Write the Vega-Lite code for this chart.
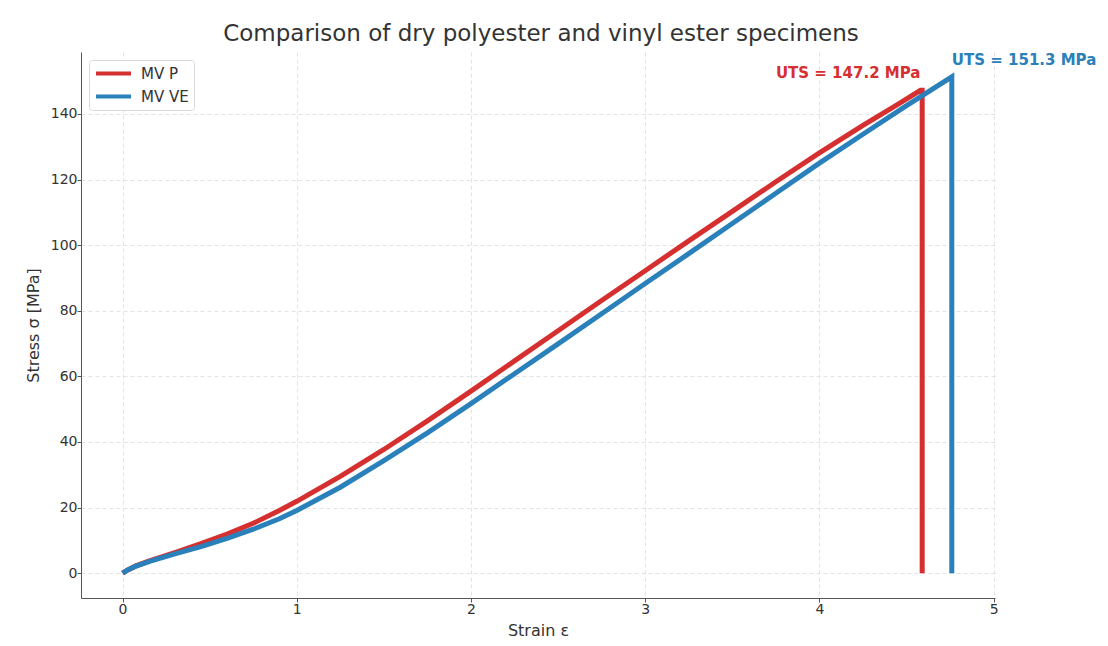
{
  "$schema": "https://vega.github.io/schema/vega-lite/v6.json",
  "width": 914,
  "height": 546,
  "autosize": {"type": "none"},
  "padding": {"left": 81, "top": 52, "right": 113, "bottom": 48},
  "background": "white",
  "title": {
    "text": "Comparison of dry polyester and vinyl ester specimens",
    "font": "DejaVu Sans",
    "fontSize": 23,
    "fontWeight": "normal",
    "color": "#333333",
    "anchor": "middle",
    "offset": 6,
    "dx": 3
  },
  "config": {
    "view": {"stroke": null},
    "axis": {
      "labelFont": "DejaVu Sans",
      "labelFontSize": 14,
      "labelColor": "#333333",
      "titleFont": "DejaVu Sans",
      "titleFontSize": 16,
      "titleFontWeight": "normal",
      "titleColor": "#333333",
      "domainColor": "#555555",
      "tickColor": "#555555",
      "tickSize": 4,
      "labelPadding": 0,
      "gridColor": "#e3e3e3",
      "gridDash": [4, 3],
      "gridWidth": 1
    },
    "legend": {
      "labelFont": "DejaVu Sans"
    }
  },
  "datasets": {
    "curves": [
      {"series": "MV P", "ord": 0, "strain": 0, "stress": 0},
      {"series": "MV P", "ord": 1, "strain": 0.03, "stress": 1.0},
      {"series": "MV P", "ord": 2, "strain": 0.08, "stress": 2.3},
      {"series": "MV P", "ord": 3, "strain": 0.15, "stress": 3.7},
      {"series": "MV P", "ord": 4, "strain": 0.3, "stress": 6.3},
      {"series": "MV P", "ord": 5, "strain": 0.45, "stress": 9.0},
      {"series": "MV P", "ord": 6, "strain": 0.6, "stress": 11.9},
      {"series": "MV P", "ord": 7, "strain": 0.75, "stress": 15.2},
      {"series": "MV P", "ord": 8, "strain": 0.9, "stress": 19.1},
      {"series": "MV P", "ord": 9, "strain": 1.0, "stress": 21.9},
      {"series": "MV P", "ord": 10, "strain": 1.25, "stress": 29.5},
      {"series": "MV P", "ord": 11, "strain": 1.5, "stress": 37.7},
      {"series": "MV P", "ord": 12, "strain": 1.75, "stress": 46.4},
      {"series": "MV P", "ord": 13, "strain": 2.0, "stress": 55.5},
      {"series": "MV P", "ord": 14, "strain": 2.25, "stress": 64.7},
      {"series": "MV P", "ord": 15, "strain": 2.5, "stress": 73.9},
      {"series": "MV P", "ord": 16, "strain": 2.75, "stress": 83.1},
      {"series": "MV P", "ord": 17, "strain": 3.0, "stress": 92.2},
      {"series": "MV P", "ord": 18, "strain": 3.25, "stress": 101.3},
      {"series": "MV P", "ord": 19, "strain": 3.5, "stress": 110.3},
      {"series": "MV P", "ord": 20, "strain": 3.75, "stress": 119.3},
      {"series": "MV P", "ord": 21, "strain": 4.0, "stress": 128.1},
      {"series": "MV P", "ord": 22, "strain": 4.25, "stress": 136.5},
      {"series": "MV P", "ord": 23, "strain": 4.45, "stress": 142.9},
      {"series": "MV P", "ord": 24, "strain": 4.58, "stress": 147.2},
      {"series": "MV P", "ord": 25, "strain": 4.59, "stress": 147.2},
      {"series": "MV P", "ord": 26, "strain": 4.59, "stress": 0},
      {"series": "MV VE", "ord": 0, "strain": 0, "stress": 0},
      {"series": "MV VE", "ord": 1, "strain": 0.03, "stress": 1.0},
      {"series": "MV VE", "ord": 2, "strain": 0.07, "stress": 2.0},
      {"series": "MV VE", "ord": 3, "strain": 0.16, "stress": 3.7},
      {"series": "MV VE", "ord": 4, "strain": 0.3, "stress": 5.9},
      {"series": "MV VE", "ord": 5, "strain": 0.45, "stress": 8.1},
      {"series": "MV VE", "ord": 6, "strain": 0.6, "stress": 10.6},
      {"series": "MV VE", "ord": 7, "strain": 0.75, "stress": 13.4},
      {"series": "MV VE", "ord": 8, "strain": 0.9, "stress": 16.6},
      {"series": "MV VE", "ord": 9, "strain": 1.0, "stress": 19.1},
      {"series": "MV VE", "ord": 10, "strain": 1.25, "stress": 26.2},
      {"series": "MV VE", "ord": 11, "strain": 1.5, "stress": 34.3},
      {"series": "MV VE", "ord": 12, "strain": 1.75, "stress": 42.8},
      {"series": "MV VE", "ord": 13, "strain": 2.0, "stress": 51.7},
      {"series": "MV VE", "ord": 14, "strain": 2.25, "stress": 60.8},
      {"series": "MV VE", "ord": 15, "strain": 2.5, "stress": 69.9},
      {"series": "MV VE", "ord": 16, "strain": 2.75, "stress": 79.1},
      {"series": "MV VE", "ord": 17, "strain": 3.0, "stress": 88.3},
      {"series": "MV VE", "ord": 18, "strain": 3.25, "stress": 97.4},
      {"series": "MV VE", "ord": 19, "strain": 3.5, "stress": 106.6},
      {"series": "MV VE", "ord": 20, "strain": 3.75, "stress": 115.8},
      {"series": "MV VE", "ord": 21, "strain": 4.0, "stress": 125.0},
      {"series": "MV VE", "ord": 22, "strain": 4.25, "stress": 133.8},
      {"series": "MV VE", "ord": 23, "strain": 4.5, "stress": 142.5},
      {"series": "MV VE", "ord": 24, "strain": 4.76, "stress": 151.3},
      {"series": "MV VE", "ord": 25, "strain": 4.76, "stress": 0}
    ],
    "labels": [
      {"series": "MV P", "strain": 4.58, "stress": 147.2, "label": "UTS = 147.2 MPa"},
      {"series": "MV VE", "strain": 4.76, "stress": 151.3, "label": "UTS = 151.3 MPa"}
    ]
  },
  "layer": [
    {
      "data": {"name": "curves"},
      "mark": {"type": "line", "strokeWidth": 5, "strokeCap": "butt", "strokeJoin": "miter", "clip": true},
      "encoding": {
        "x": {
          "field": "strain", "type": "quantitative",
          "scale": {"domain": [-0.2385, 5.008], "nice": false, "zero": false},
          "axis": {"values": [0, 1, 2, 3, 4, 5], "format": "d", "title": "Strain ε", "titlePadding": 6, "grid": true}
        },
        "y": {
          "field": "stress", "type": "quantitative",
          "scale": {"domain": [-7.565, 158.865], "nice": false, "zero": false},
          "axis": {"values": [0, 20, 40, 60, 80, 100, 120, 140], "title": "Stress σ [MPa]", "titlePadding": 9, "grid": true}
        },
        "color": {
          "field": "series", "type": "nominal",
          "scale": {"domain": ["MV P", "MV VE"], "range": ["#d62f2f", "#2a80ba"]},
          "legend": {
            "title": null,
            "orient": "top-left",
            "offset": 8,
            "padding": 5,
            "fillColor": "white",
            "strokeColor": "#d9d9d9",
            "cornerRadius": 3,
            "symbolType": "stroke",
            "symbolSize": 1225,
            "symbolStrokeWidth": 4,
            "clipHeight": 17,
            "labelFontSize": 15,
            "labelColor": "#333333",
            "labelOffset": 8,
            "rowPadding": 6
          }
        },
        "order": {"field": "ord", "type": "quantitative"}
      }
    },
    {
      "data": {"name": "labels"},
      "transform": [{"filter": "datum.series === 'MV P'"}],
      "mark": {"type": "text", "font": "DejaVu Sans", "fontSize": 15, "fontWeight": "bold", "dy": -12, "baseline": "alphabetic", "align": "right", "color": "#d62f2f"},
      "encoding": {
        "x": {"field": "strain", "type": "quantitative"},
        "y": {"field": "stress", "type": "quantitative"},
        "text": {"field": "label"}
      }
    },
    {
      "data": {"name": "labels"},
      "transform": [{"filter": "datum.series === 'MV VE'"}],
      "mark": {"type": "text", "font": "DejaVu Sans", "fontSize": 15, "fontWeight": "bold", "dy": -12, "baseline": "alphabetic", "align": "left", "color": "#2a80ba"},
      "encoding": {
        "x": {"field": "strain", "type": "quantitative"},
        "y": {"field": "stress", "type": "quantitative"},
        "text": {"field": "label"}
      }
    }
  ]
}
